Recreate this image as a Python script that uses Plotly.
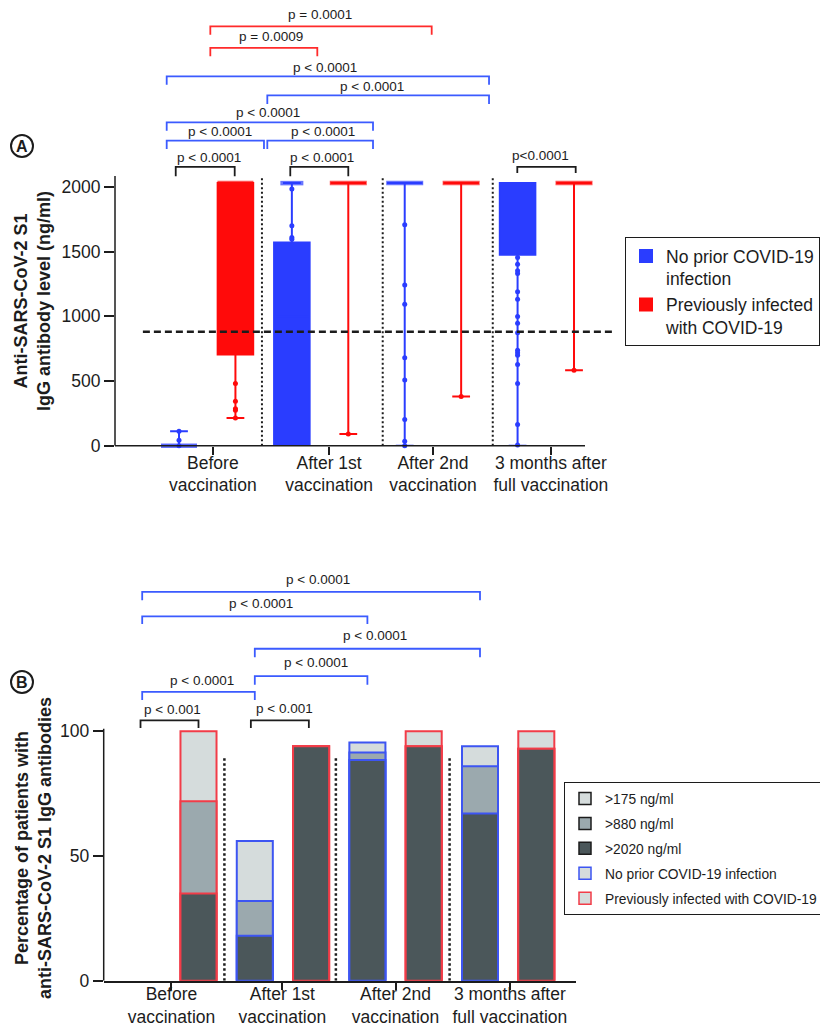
import plotly.graph_objects as go

W, H = 828, 1027

# ------------------------------------------------------------------ data
timepoints = ["Before<br>vaccination", "After 1st<br>vaccination",
              "After 2nd<br>vaccination", "3 months after<br>full vaccination"]
group_names = ["No prior COVID-19<br>infection", "Previously infected<br>with COVID-19"]

blue_pos = [0, 2, 4, 6]
red_pos = [1, 3, 5, 7]

# Panel A: box statistics (ng/ml)
blue_q1 = [0, 0, 2030, 1476]
blue_median = [0, 1000, 2030, 2030]
blue_q3 = [0, 1571, 2030, 2030]
blue_low = [0, 0, 0, 0]
blue_high = [112, 2030, 2030, 2030]

red_q1 = [705, 2030, 2030, 2030]
red_median = [2030, 2030, 2030, 2030]
red_q3 = [2030, 2030, 2030, 2030]
red_low = [215, 90, 380, 584]
red_high = [2030, 2030, 2030, 2030]

# individual points shown outside the boxes
blue_points = [[42, 112, 0],
               [1985, 1701, 1610, 1597],
               [1708, 1243, 1093, 680, 507, 202, 34, 0],
               [1455, 1403, 1352, 1331, 1191, 1132, 998, 946, 874, 737, 719, 700,
                628, 481, 163, 5]]
red_points = [[480, 343, 286, 274, 214], [90], [380], [584]]

# piles of many observations at the same value (assay limits)
blue_pile = [0, 2030, 2030, None]
red_pile = [2030, 2030, 2030, 2030]

threshold = 880
a_yticks = [0, 500, 1000, 1500, 2000]

# Panel B: % of patients above each level
blue_pct175 = [0, 56, 95.5, 94]
blue_pct880 = [0, 32, 91.5, 86]
blue_pct2020 = [0, 18, 88.5, 67]
red_pct175 = [100, 94, 100, 100]
red_pct880 = [72, 94, 94, 93]
red_pct2020 = [35, 94, 94, 93]
level_names = [">175 ng/ml", ">880 ng/ml", ">2020 ng/ml"]
b_yticks = [0, 50, 100]

# ------------------------------------------------------------------ styles / layout geometry
FONT = "Liberation Sans, Arial, Helvetica, sans-serif"
BLUE = "#2a3dff"
RED = "#ff0a0a"
BR_BLUE = "#3b5bff"
BR_RED = "#ff2b2b"
BLACK = "#1c1c1c"
B_BLUE = "#3d55f2"
B_RED = "#f23c48"
LIGHT = "#d5dcdc"
MID = "#9ba9ae"
DARK = "#4b575a"

# panel A geometry (pixels)
A_X0PX, A_DX = 171.0, 56.43      # px of position 0, px per unit
A_Y0PX, A_KY = 437.7, 0.12935    # px of value 0, px per ng/ml
A_LEFT, A_RIGHT = 107.0, 620.0
A_AXIS_END = 577.0
a_xr = [(A_LEFT - A_X0PX) / A_DX, (A_RIGHT - A_X0PX) / A_DX]
a_yr = [0, A_Y0PX / A_KY]
A_TICKS = [0.60, 2.66, 4.50, 6.59]
A_SEPS = [1.47, 3.61, 5.56]
BOX_W = 0.63

# panel B geometry
B_X0PX, B_DX = 134.2, 56.3
B_Y0PX, B_KY = 972.7, 2.494
B_LEFT, B_RIGHT, B_TOP = 95.7, 568.0, 555.0
b_xr = [(B_LEFT - B_X0PX) / B_DX, (B_RIGHT - B_X0PX) / B_DX]
b_yr = [0, (B_Y0PX - B_TOP) / B_KY]
B_TICKS = [0.52, 2.49, 4.50, 6.53]
B_SEPS = [1.46, 3.44, 5.46]
BAR_W = 0.64

# brackets: (color, x0, x1, y_bar, y_leg, label, text_x, text_y)
a_brackets = [
    (BR_RED, 0.555, 4.478, 3242, 3177, "p = 0.0001", 2.50, 3335),
    (BR_RED, 0.555, 2.451, 3075, 3010, "p = 0.0009", 1.63, 3160),
    (BR_BLUE, -0.218, 5.494, 2856, 2791, "p < 0.0001", 2.59, 2922),
    (BR_BLUE, 1.565, 5.494, 2709, 2642, "p < 0.0001", 3.42, 2780),
    (BR_BLUE, -0.218, 3.438, 2500, 2435, "p < 0.0001", 1.58, 2574),
    (BR_BLUE, -0.218, 1.506, 2358, 2294, "p < 0.0001", 0.73, 2427),
    (BR_BLUE, 1.565, 3.438, 2358, 2294, "p < 0.0001", 2.55, 2427),
    (BLACK, -0.058, 0.987, 2155, 2083, "p < 0.0001", 0.53, 2226),
    (BLACK, 1.972, 3.0, 2155, 2083, "p < 0.0001", 2.53, 2226),
    (BLACK, 5.995, 7.03, 2155, 2108, "p<0.0001", 6.40, 2244),
]
b_brackets = [
    (BR_BLUE, 0, 6, 155.9, 152.5, "p < 0.0001", 3.12, 160.8),
    (BR_BLUE, 0, 4, 146.1, 143.0, "p < 0.0001", 2.11, 151.4),
    (BR_BLUE, 2, 6, 133.1, 129.7, "p < 0.0001", 4.13, 138.3),
    (BR_BLUE, 2, 4, 122.1, 118.7, "p < 0.0001", 3.08, 127.4),
    (BR_BLUE, 0, 2, 115.8, 112.6, "p < 0.0001", 1.07, 120.4),
    (BLACK, -0.03, 1.0, 104.4, 101.3, "p < 0.001", 0.54, 108.7),
    (BLACK, 1.93, 2.96, 104.4, 101.3, "p < 0.001", 2.52, 109.3),
]

PILE_PX_BLUE = [36, 23, 37, 0]
PILE_PX_RED = [36, 37, 37, 37]


def flat(positions, groups):
    xs, ys = [], []
    for p, vals in zip(positions, groups):
        xs += [p] * len(vals)
        ys += list(vals)
    return xs, ys


fig = go.Figure()

# ------------------------------------------------------------------ panel A
for name, pos, q1, med, q3, lo, hi, col in [
        (group_names[0], blue_pos, blue_q1, blue_median, blue_q3, blue_low, blue_high, BLUE),
        (group_names[1], red_pos, red_q1, red_median, red_q3, red_low, red_high, RED)]:
    fig.add_trace(go.Box(
        name=name, x=pos, q1=q1, median=med, q3=q3, lowerfence=lo, upperfence=hi,
        width=BOX_W, whiskerwidth=0.5, fillcolor=col, line=dict(color=col, width=2),
        boxpoints=False, xaxis="x", yaxis="y", legend="legend", hoverinfo="skip"))

for pos, pile, px, col in [(blue_pos, blue_pile, PILE_PX_BLUE, BLUE),
                           (red_pos, red_pile, PILE_PX_RED, RED)]:
    xs = [p for p, v in zip(pos, pile) if v is not None]
    ys = [v for v in pile if v is not None]
    sz = [s / 1.4 for s, v in zip(px, pile) if v is not None]
    fig.add_trace(go.Scatter(
        x=xs, y=ys, mode="markers", showlegend=False, hoverinfo="skip", cliponaxis=False,
        marker=dict(symbol="line-ew", size=sz, line=dict(color=col, width=4.5)),
        xaxis="x", yaxis="y"))

for pos, pts, col in [(blue_pos, blue_points, BLUE), (red_pos, red_points, RED)]:
    xs, ys = flat(pos, pts)
    fig.add_trace(go.Scatter(
        x=xs, y=ys, mode="markers", showlegend=False, hoverinfo="skip", cliponaxis=False,
        marker=dict(size=5, color=col), xaxis="x", yaxis="y"))

# ------------------------------------------------------------------ panel B
b_x = blue_pos + red_pos
b_line = [B_BLUE] * len(blue_pos) + [B_RED] * len(red_pos)
for name, yb, yr, fill in [(level_names[0], blue_pct175, red_pct175, LIGHT),
                           (level_names[1], blue_pct880, red_pct880, MID),
                           (level_names[2], blue_pct2020, red_pct2020, DARK)]:
    yy = yb + yr
    fig.add_trace(go.Bar(
        x=b_x, y=yy, width=BAR_W, showlegend=False, hoverinfo="skip",
        marker=dict(color=fill, line=dict(color=b_line, width=[2 if v > 0 else 0 for v in yy])),
        xaxis="x2", yaxis="y2"))

# legend entries for panel B
for i, (name, fill, edge) in enumerate([(level_names[0], LIGHT, BLACK), (level_names[1], MID, BLACK),
                                        (level_names[2], DARK, BLACK),
                                        ("No prior COVID-19 infection", LIGHT, B_BLUE),
                                        ("Previously infected with COVID-19", LIGHT, B_RED)]):
    fig.add_trace(go.Bar(
        x=[None], y=[None], name=name, legend="legend2", legendgroup=f"b{i}",
        xaxis="x2", yaxis="y2",
        marker=dict(color=fill, line=dict(color=edge, width=1.5))))

# ------------------------------------------------------------------ shapes
shapes = []
# axis lines
shapes.append(dict(type="line", xref="x", yref="paper", x0=a_xr[0], x1=(A_AXIS_END - A_X0PX) / A_DX,
                   y0=1 - A_Y0PX / H, y1=1 - A_Y0PX / H, line=dict(color=BLACK, width=1.5)))
shapes.append(dict(type="line", xref="paper", yref="y", x0=A_LEFT / W, x1=A_LEFT / W,
                   y0=0, y1=2085, line=dict(color=BLACK, width=1.5)))
shapes.append(dict(type="line", xref="paper", yref="y2", x0=B_LEFT / W, x1=B_LEFT / W,
                   y0=0, y1=101, line=dict(color=BLACK, width=1.5)))
# separators
for s in A_SEPS:
    shapes.append(dict(type="line", xref="x", yref="y", x0=s, x1=s, y0=0, y1=2070,
                       line=dict(color=BLACK, width=2, dash="2px,2.5px")))
for s in B_SEPS:
    shapes.append(dict(type="line", xref="x2", yref="y2", x0=s, x1=s, y0=0, y1=89.6,
                       line=dict(color=BLACK, width=2.5, dash="2.5px,2.5px")))
# threshold
shapes.append(dict(type="line", xref="x", yref="y", x0=-0.64, x1=7.69, y0=threshold, y1=threshold,
                   line=dict(color=BLACK, width=2.5, dash="7px,4px")))

annotations = []
for xr, yr, brs in [("x", "y", a_brackets), ("x2", "y2", b_brackets)]:
    for col, x0, x1, yb, yl, lab, tx, ty in brs:
        shapes.append(dict(type="path", xref=xr, yref=yr,
                           path=f"M{x0},{yl} L{x0},{yb} L{x1},{yb} L{x1},{yl}",
                           line=dict(color=col, width=1.8)))
        annotations.append(dict(xref=xr, yref=yr, x=tx, y=ty, text=lab, showarrow=False,
                                xanchor="center", yanchor="middle",
                                font=dict(size=13.5, color=BLACK)))

# circled panel letters
for letter, cx, cy in [("A", 14, 138), ("B", 14, 674)]:
    shapes.append(dict(type="circle", xref="paper", yref="paper",
                       x0=(cx - 11) / W, x1=(cx + 11) / W, y0=1 - (cy + 11) / H, y1=1 - (cy - 11) / H,
                       line=dict(color=BLACK, width=2)))
    annotations.append(dict(xref="paper", yref="paper", x=cx / W, y=1 - cy / H, text=f"<b>{letter}</b>",
                            showarrow=False, xanchor="center", yanchor="middle",
                            font=dict(size=16, color=BLACK)))

# axis titles
annotations.append(dict(xref="paper", yref="paper", x=24 / W, y=1 - 293 / H, textangle=-90,
                        text="<b>Anti-SARS-CoV-2 S1<br>IgG antibody level (ng/ml)</b>",
                        showarrow=False, xanchor="center", yanchor="middle",
                        font=dict(size=18, color=BLACK)))
annotations.append(dict(xref="paper", yref="paper", x=25 / W, y=1 - 840 / H, textangle=-90,
                        text="<b>Percentage of patients with<br>anti-SARS-CoV-2 S1 IgG antibodies</b>",
                        showarrow=False, xanchor="center", yanchor="middle",
                        font=dict(size=18, color=BLACK)))

axis_common = dict(showgrid=False, zeroline=False, ticks="outside", tickwidth=1.5,
                   tickcolor=BLACK, tickfont=dict(size=17.5, color=BLACK))

fig.update_layout(
    width=W, height=H,
    margin=dict(l=0, r=0, t=0, b=0, autoexpand=False),
    paper_bgcolor="white", plot_bgcolor="white",
    font=dict(family=FONT, color=BLACK, size=17.5),
    boxmode="overlay", barmode="overlay",
    xaxis=dict(domain=[A_LEFT / W, A_RIGHT / W], range=a_xr, anchor="y", showline=False,
               tickvals=A_TICKS, ticktext=timepoints, ticklen=8, ticklabelstandoff=-7,
               **axis_common),
    yaxis=dict(domain=[1 - A_Y0PX / H, 1], range=a_yr, anchor="x", showline=False,
               tickvals=a_yticks, ticklen=10, **axis_common),
    xaxis2=dict(domain=[B_LEFT / W, B_RIGHT / W], range=b_xr, anchor="y2", showline=True,
                linecolor=BLACK, linewidth=1.5,
                tickvals=B_TICKS, ticktext=timepoints, ticklen=8, ticklabelstandoff=-11,
                **axis_common),
    yaxis2=dict(domain=[1 - B_Y0PX / H, 1 - B_TOP / H], range=b_yr, anchor="x2", showline=False,
                tickvals=b_yticks, ticklen=10, **axis_common),
    legend=dict(x=617 / W, y=1 - 229 / H, xanchor="left", yanchor="top",
                bordercolor=BLACK, borderwidth=1, bgcolor="white", valign="top",
                font=dict(size=17.5, color=BLACK)),
    legend2=dict(x=556 / W, y=1 - 774 / H, xanchor="left", yanchor="top",
                 bordercolor=BLACK, borderwidth=1, bgcolor="white", tracegroupgap=4,
                 font=dict(size=13.8, color=BLACK)),
    shapes=shapes, annotations=annotations,
)

fig.write_html("out.html")
